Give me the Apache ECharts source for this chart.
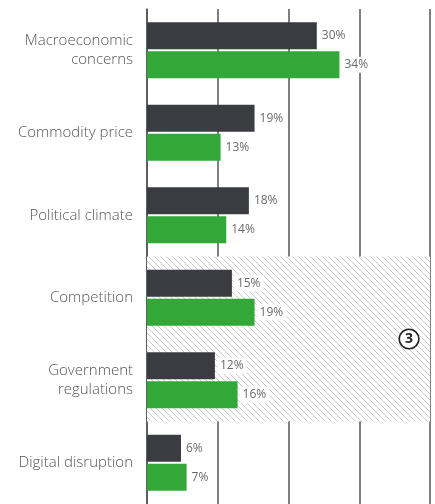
<!DOCTYPE html>
<html>
<head>
<meta charset="utf-8">
<script src="https://cdn.jsdelivr.net/npm/echarts@6/dist/echarts.min.js"></script>
<style>
html,body{margin:0;padding:0;background:#fff;}
#main{width:435px;height:504px;}
</style>
</head>
<body>
<div id="main"></div>
<script>
var categories = ['Macroeconomic\nconcerns', 'Commodity price', 'Political climate', 'Competition', 'Government\nregulations', 'Digital disruption'];
var darkValues = [30, 19, 18, 15, 12, 6];
var greenValues = [34, 13, 14, 19, 16, 7];
var hatchFrom = 'Competition';
var hatchTo = 'Government\nregulations';

// diagonal hatch pattern
function makeHatch(){
	var c = document.createElement('canvas');
	c.width = 6; c.height = 6;
	var ctx = c.getContext('2d');
	ctx.fillStyle = '#fff';
	ctx.fillRect(0, 0, 6, 6);
	ctx.strokeStyle = '#cacaca';
	ctx.lineWidth = 1;
	ctx.beginPath();
	ctx.moveTo(-1, -1); ctx.lineTo(7, 7);
	ctx.moveTo(-1, 5); ctx.lineTo(1, 7);
	ctx.moveTo(5, -1); ctx.lineTo(7, 1);
	ctx.stroke();
	return c;
}

var myChart = echarts.init(document.getElementById('main'));

var valueLabel = {
	show: true,
	position: 'right',
	distance: 2,
	formatter: '{c}%',
	color: '#6a6a6a',
	fontSize: 12,
	fontFamily: 'Open Sans',
	backgroundColor: '#fff',
	padding: [2, 3]
};

var option = {
	animation: false,
	grid: {
		left: 147,
		top: 9,
		width: 283,
		height: 498
	},
	xAxis: {
		type: 'value',
		min: 0,
		max: 50,
		interval: 12.5,
		axisLabel: {show: false},
		axisLine: {show: false},
		axisTick: {show: false},
		splitLine: {
			show: true,
			lineStyle: {color: '#555', width: 1.5}
		}
	},
	yAxis: {
		type: 'category',
		inverse: true,
		data: categories,
		axisTick: {show: false},
		axisLine: {
			show: true,
			lineStyle: {color: '#555', width: 1.5}
		},
		axisLabel: {
			margin: 14,
			color: '#555',
			fontSize: 15,
			fontWeight: 300,
			lineHeight: 19,
			fontFamily: 'Open Sans',
			align: 'right'
		}
	},
	series: [{
		name: 'dark',
		type: 'bar',
		z: 3,
		data: darkValues,
		barWidth: 27,
		barGap: '8%',
		itemStyle: {color: '#3b3c41'},
		label: valueLabel,
		markArea: {
			silent: true,
			itemStyle: {color: {image: makeHatch(), repeat: 'repeat'}},
			label: {
				show: true,
				position: ['92.6%', '50%'],
				align: 'center',
				verticalAlign: 'middle',
				formatter: '3',
				color: '#222',
				fontSize: 14,
				fontWeight: 'bold',
				fontFamily: 'Open Sans',
				backgroundColor: '#fff',
				borderColor: '#222',
				borderWidth: 1.6,
				borderRadius: 10,
				width: 18,
				height: 18,
				lineHeight: 18
			},
			data: [[{yAxis: hatchFrom}, {yAxis: hatchTo}]]
		}
	}, {
		name: 'green',
		type: 'bar',
		z: 3,
		data: greenValues,
		barWidth: 27,
		itemStyle: {color: '#31a838'},
		label: valueLabel
	}]
};
myChart.setOption(option);
</script>
</body>
</html>
